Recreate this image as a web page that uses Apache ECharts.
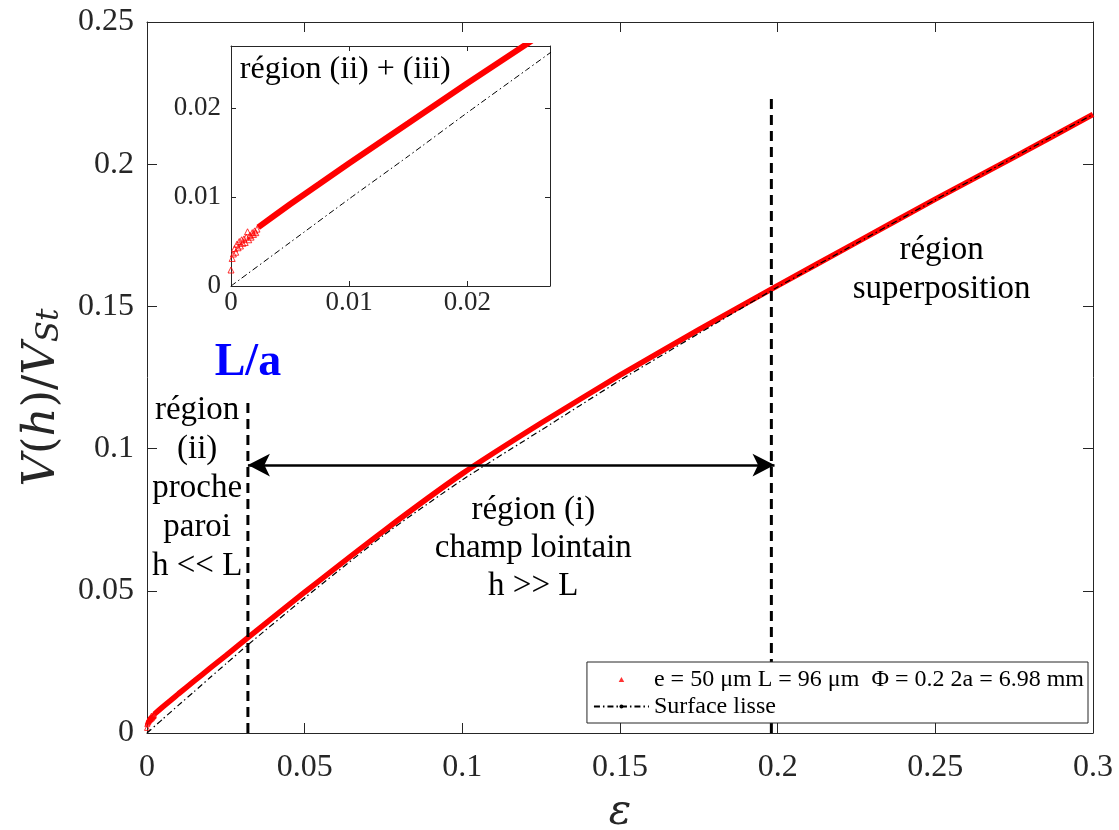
<!DOCTYPE html>
<html><head><meta charset="utf-8">
<script src="https://cdn.jsdelivr.net/npm/echarts@6/dist/echarts.min.js"></script>
<style>html,body{margin:0;padding:0;background:#fff}#c{width:1119px;height:830px}</style>
</head><body><div id="c"></div>
<script>
// ---------- data ----------
const redName = 'e = 50 \u03bcm L = 96 \u03bcm  \u03a6 = 0.2 2a = 6.98 mm';
const smoothName = 'Surface lisse';

// noisy near-wall points (triangles)
const noiseX = [0, 0.0001, 0.0002, 0.0003, 0.0004, 0.0005, 0.0006, 0.0007, 0.0008, 0.0009, 0.0010, 0.0011, 0.0012, 0.0013, 0.0014, 0.0015, 0.0016, 0.0017, 0.0018, 0.0019, 0.0020, 0.0021, 0.0022];
const noiseY = [0.0018, 0.0031, 0.0036, 0.0042, 0.0038, 0.0047, 0.0043, 0.0050, 0.0045, 0.0052, 0.0048, 0.0053, 0.0049, 0.0055, 0.0061, 0.0052, 0.0057, 0.0055, 0.0060, 0.0058, 0.0062, 0.0060, 0.0064];

// measured curve
const redX = [0.0023, 0.005, 0.0075, 0.01, 0.015, 0.02, 0.025, 0.032, 0.05, 0.075, 0.1, 0.125, 0.15, 0.175, 0.2, 0.225, 0.25, 0.275, 0.3];
const redY = [0.0066, 0.0092, 0.0115, 0.0138, 0.0183, 0.0228, 0.0272, 0.0335, 0.0495, 0.0710, 0.0912, 0.1090, 0.1258, 0.1418, 0.1573, 0.1725, 0.1877, 0.2025, 0.2175];

// smooth surface
const smoothX = [0, 0.005, 0.01, 0.015, 0.02, 0.025, 0.032, 0.05, 0.075, 0.1, 0.125, 0.15, 0.175, 0.2, 0.225, 0.25, 0.275, 0.3];
const smoothY = [0, 0.0049, 0.0098, 0.0146, 0.0195, 0.0243, 0.0310, 0.0475, 0.0695, 0.0890, 0.1065, 0.1240, 0.1405, 0.1568, 0.1722, 0.1875, 0.2025, 0.2175];

// vertical dashed markers and arrow
const vlineX = [0.032, 0.198];
const vlineTop = [0.118, 0.225];
const arrowX = [0.032, 0.199];
const arrowY = 0.0942;

// tick labels
const mainXLabels = ['0', '0.05', '0.1', '0.15', '0.2', '0.25', '0.3'];
const mainYLabels = ['0', '0.05', '0.1', '0.15', '0.2', '0.25'];
const insetLabels = ['0', '0.01', '0.02'];

// ---------- chart ----------
const zip = (a, b) => a.map((v, i) => [v, b[i]]);
const AX = '#262626';
const SERIF = 'Liberation Serif';

function axisBase(extra) {
  return Object.assign({
    type: 'value',
    axisLine: { show: true, onZero: false, lineStyle: { color: AX, width: 1 } },
    axisTick: { show: true, inside: true, length: 10, lineStyle: { color: AX, width: 1 } },
    splitLine: { show: false },
    axisLabel: { show: false }
  }, extra);
}

const chart = echarts.init(document.getElementById('c'), null, { renderer: 'canvas' });

const mainLab = (labels, step) => ({
  show: true, color: AX, fontFamily: SERIF, fontSize: 32,
  formatter: v => labels[Math.round(v / step)]
});
const insetLab = {
  show: true, color: AX, fontFamily: SERIF, fontSize: 27, showMaxLabel: false,
  formatter: v => insetLabels[Math.round(v / 0.01)] || ''
};
const insetTick = { show: true, inside: true, length: 5, lineStyle: { color: AX } };

const option = {
  backgroundColor: '#fff',
  animation: false,
  grid: [
    { left: 147, right: 26, top: 22, bottom: 97, containLabel: false, outerBoundsMode: 'none' },
    { left: 231, top: 46, width: 319, height: 240, show: true, backgroundColor: '#fff', borderWidth: 0, z: 5, outerBoundsMode: 'none' }
  ],
  xAxis: [
    axisBase({ gridIndex: 0, min: 0, max: 0.3, interval: 0.05, position: 'bottom',
      axisLabel: Object.assign(mainLab(mainXLabels, 0.05), { margin: 19 }),
      name: '\u03b5', nameLocation: 'middle', nameGap: 59,
      nameTextStyle: { fontFamily: 'DejaVu Serif', fontStyle: 'italic', fontSize: 42, color: AX } }),
    axisBase({ gridIndex: 0, min: 0, max: 0.3, interval: 0.05, position: 'top' }),
    axisBase({ gridIndex: 1, min: 0, max: 0.027, interval: 0.01, position: 'bottom', z: 6,
      axisTick: insetTick, axisLabel: Object.assign({}, insetLab, { margin: 3 }) }),
    axisBase({ gridIndex: 1, min: 0, max: 0.027, interval: 0.01, position: 'top', z: 6, axisTick: insetTick })
  ],
  yAxis: [
    axisBase({ gridIndex: 0, min: 0, max: 0.25, interval: 0.05, position: 'left',
      axisLabel: Object.assign(mainLab(mainYLabels, 0.05), { margin: 13 }),
      name: '{i|V}{n|(}{i|h}{n|)/}{i|V}{s|St}', nameLocation: 'middle', nameGap: 82, nameRotate: 90,
      nameTextStyle: {
        color: AX, fontFamily: 'DejaVu Serif', fontSize: 45, padding: [0, 40, 0, 0],
        rich: {
          i: { fontFamily: 'DejaVu Serif', fontStyle: 'italic', fontSize: 45, color: AX },
          n: { fontFamily: 'DejaVu Serif', fontSize: 45, color: AX },
          s: { fontFamily: 'DejaVu Serif', fontStyle: 'italic', fontSize: 31, color: AX, lineHeight: 17, verticalAlign: 'bottom' }
        }
      } }),
    axisBase({ gridIndex: 0, min: 0, max: 0.25, interval: 0.05, position: 'right' }),
    axisBase({ gridIndex: 1, min: 0, max: 0.027, interval: 0.01, position: 'left', z: 6,
      axisTick: insetTick, axisLabel: Object.assign({}, insetLab, { margin: 10 }) }),
    axisBase({ gridIndex: 1, min: 0, max: 0.027, interval: 0.01, position: 'right', z: 6, axisTick: insetTick })
  ],
  legend: {
    show: true, orient: 'vertical', right: 31, bottom: 107,
    data: [
      { name: redName, icon: 'path://M5,0L10,9L0,9Z', itemStyle: { color: '#ff0000', borderWidth: 0 } },
      { name: smoothName }
    ],
    itemWidth: 55, itemHeight: 5, itemGap: 0, symbolKeepAspect: true,
    padding: [4, 4, 3, 6],
    borderColor: AX, borderWidth: 1, backgroundColor: '#fff',
    selectedMode: false,
    textStyle: { fontFamily: SERIF, fontSize: 24, color: '#000', lineHeight: 27 },
    z: 10
  },
  series: [
    // main plot
    { name: redName, type: 'scatter', xAxisIndex: 0, yAxisIndex: 0, data: zip(noiseX, noiseY),
      symbol: 'triangle', symbolSize: 5, itemStyle: { color: 'rgba(255,0,0,0)', borderColor: '#ff0000', borderWidth: 1 }, silent: true, z: 2 },
    { name: redName, type: 'line', xAxisIndex: 0, yAxisIndex: 0, data: zip(redX, redY), smooth: 0.2,
      showSymbol: false, symbol: 'none', lineStyle: { color: '#ff0000', width: 5.5 }, itemStyle: { color: '#ff0000' }, silent: true, z: 2 },
    { name: smoothName, type: 'line', xAxisIndex: 0, yAxisIndex: 0, data: zip(smoothX, smoothY), smooth: 0.2,
      showSymbol: false, symbol: 'none', lineStyle: { color: '#000', width: 1.2, type: [6, 3, 1.5, 3] }, itemStyle: { color: '#000' }, silent: true, z: 3 },
    { name: 'vline1', type: 'line', xAxisIndex: 0, yAxisIndex: 0, data: [[vlineX[0], 0], [vlineX[0], vlineTop[0]]],
      showSymbol: false, symbol: 'none', lineStyle: { color: '#000', width: 3, type: [10, 6] }, silent: true, z: 4 },
    { name: 'vline2', type: 'line', xAxisIndex: 0, yAxisIndex: 0, data: [[vlineX[1], 0], [vlineX[1], vlineTop[1]]],
      showSymbol: false, symbol: 'none', lineStyle: { color: '#000', width: 3, type: [10, 6] }, silent: true, z: 4,
      markLine: {
        silent: true, symbol: ['arrow', 'arrow'], symbolSize: [17, 22], label: { show: false },
        lineStyle: { color: '#000', width: 2.6, type: 'solid' },
        emphasis: { disabled: true },
        data: [[{ coord: [arrowX[0], arrowY] }, { coord: [arrowX[1], arrowY] }]]
      } },
    // inset
    { name: redName, type: 'line', xAxisIndex: 2, yAxisIndex: 2, data: zip(redX, redY), smooth: 0.2,
      showSymbol: false, symbol: 'none', lineStyle: { color: '#ff0000', width: 6 }, itemStyle: { color: '#ff0000' }, silent: true, z: 7 },
    { name: redName, type: 'scatter', xAxisIndex: 2, yAxisIndex: 2, data: zip(noiseX, noiseY),
      symbol: 'triangle', symbolSize: 6, itemStyle: { color: 'rgba(255,0,0,0)', borderColor: '#ff0000', borderWidth: 1 }, silent: true, z: 7 },
    { name: smoothName, type: 'line', xAxisIndex: 2, yAxisIndex: 2, data: zip(smoothX, smoothY), smooth: 0.2,
      showSymbol: false, symbol: 'none', lineStyle: { color: '#000', width: 1, type: [6, 3, 1.5, 3] }, silent: true, z: 7 }
  ]
};
chart.setOption(option);

// ---------- annotations placed via data coordinates ----------
const P = (g, x, y) => chart.convertToPixel({ gridIndex: g }, [x, y]);
function txt(g, x, y, text, style) {
  const p = P(g, x, y);
  return { type: 'text', x: p[0], y: p[1], z: 20, silent: true,
    style: Object.assign({ text: text, fill: '#000', font: '33px "Liberation Serif"', align: 'center', verticalAlign: 'middle', lineHeight: 39 }, style) };
}
chart.setOption({
  graphic: [
    txt(0, 0.032, 0.130, 'L/a', { fill: '#0000ff', font: 'bold 46px "Liberation Serif"' }),
    txt(0, 0.0159, 0.0862, 'r\u00e9gion\n(ii)\nproche\nparoi\nh << L', {}),
    txt(0, 0.1225, 0.0650, 'r\u00e9gion (i)\nchamp lointain\nh >> L', { lineHeight: 38 }),
    txt(0, 0.252, 0.1630, 'r\u00e9gion\nsuperposition', { lineHeight: 39 }),
    txt(1, 0.00075, 0.0243, 'r\u00e9gion (ii) + (iii)', { align: 'left', font: '32px "Liberation Serif"' })
  ]
});
</script>
</body></html>
